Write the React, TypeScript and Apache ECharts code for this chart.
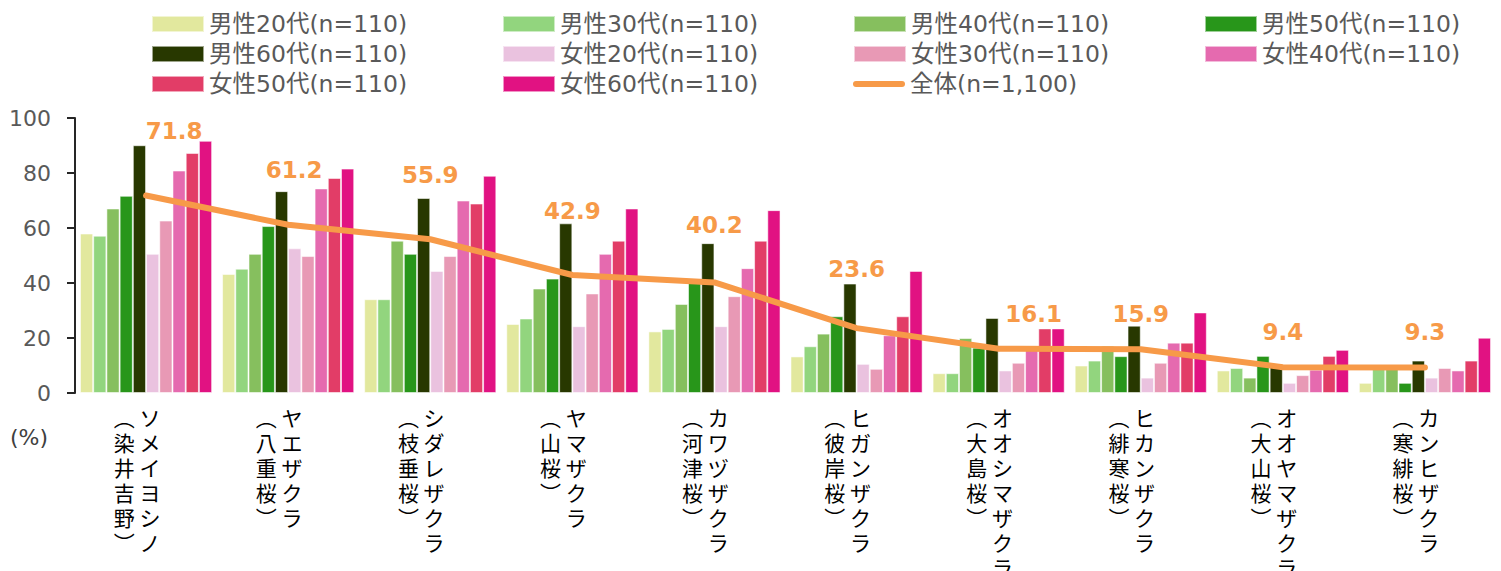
import React, { useEffect, useRef } from "react";
import * as echarts from "echarts";

// ---- data ----
const catMain = ["ソメイヨシノ", "ヤエザクラ", "シダレザクラ", "ヤマザクラ", "カワヅザクラ", "ヒガンザクラ", "オオシマザクラ", "ヒカンザクラ", "オオヤマザクラ", "カンヒザクラ"];
const catSub = ["(染井吉野)", "(八重桜)", "(枝垂桜)", "(山桜)", "(河津桜)", "(彼岸桜)", "(大島桜)", "(緋寒桜)", "(大山桜)", "(寒緋桜)"];

const seriesNames = [
  "男性20代(n=110)", "男性30代(n=110)", "男性40代(n=110)", "男性50代(n=110)", "男性60代(n=110)",
  "女性20代(n=110)", "女性30代(n=110)", "女性40代(n=110)", "女性50代(n=110)", "女性60代(n=110)",
];
const totalName = "全体(n=1,100)";

const m20 = [58.0, 43.3, 34.1, 25.1, 22.4, 13.3, 7.2, 10.0, 8.2, 3.7];
const m30 = [57.2, 45.2, 34.1, 27.1, 23.3, 17.0, 7.2, 11.8, 9.1, 9.5];
const m40 = [67.1, 50.6, 55.4, 38.0, 32.4, 21.6, 20.0, 17.2, 5.6, 9.2];
const m50 = [71.7, 60.7, 50.6, 41.6, 40.0, 27.9, 16.5, 13.4, 13.5, 3.7];
const m60 = [90.1, 73.4, 70.9, 61.7, 54.5, 39.8, 27.3, 24.5, 10.0, 11.8];
const f20 = [50.6, 52.6, 44.4, 24.3, 24.3, 10.6, 8.2, 5.6, 3.7, 5.6];
const f30 = [62.7, 49.8, 49.8, 36.2, 35.2, 8.8, 11.0, 11.0, 6.5, 9.1];
const f40 = [80.9, 74.4, 70.0, 50.6, 45.4, 21.0, 16.0, 18.3, 8.5, 8.2];
const f50 = [87.3, 78.2, 68.9, 55.4, 55.4, 27.9, 23.5, 18.3, 13.5, 11.8];
const f60 = [91.7, 81.6, 79.0, 67.1, 66.5, 44.4, 23.5, 29.3, 15.7, 20.1];
const total = [71.8, 61.2, 55.9, 42.9, 40.2, 23.6, 16.1, 15.9, 9.4, 9.3];

const yTicks = { min: 0, max: 100, interval: 20 };

// ---- styles ----
const barColors = ["#E2E89E", "#92D57E", "#86BF5E", "#28961A", "#283800", "#EAC2DF", "#E899B5", "#E56AAF", "#E23D67", "#E11282"];
const lineColor = "#F79A48";
// label placement tweaks (pixels) for the total-series value labels
const labelDx = [28, 6, 0, 0, 0, 0, 35, 0, 0, 0];
const labelDy = [-47, -37, -47, -47, -40, -42, -17, -18, -18, -18];

const barData = [m20, m30, m40, m50, m60, f20, f30, f40, f50, f60];

function verticalLabel(i: number): string {
  const a = Array.from(catMain[i]);
  const b = Array.from(catSub[i].replace("(", "︵").replace(")", "︶"));
  const n = Math.max(a.length, b.length);
  const rows: string[] = [];
  for (let k = 0; k < n; k++) {
    rows.push((b[k] ?? "　") + " " + (a[k] ?? "　"));
  }
  return rows.join("\n");
}

export default function App() {
  const ref = useRef<HTMLDivElement>(null);
  useEffect(() => {
    document.body.style.margin = "0";
    if (!ref.current) return;
    const chart = echarts.init(ref.current, undefined, { renderer: "svg" });
    const latin = "'DejaVu Sans', 'Noto Sans CJK JP', sans-serif";
    const option: any = {
      animation: false,
      backgroundColor: "#ffffff",
      legend: {
        left: 146,
        top: 6,
        width: 1400,
        itemWidth: 52,
        itemHeight: 16,
        itemGap: 4,
        textStyle: { fontSize: 23.5, color: "#595959", fontFamily: latin, width: 289, lineHeight: 26 },
        data: [
          ...seriesNames.map((n) => ({ name: n, icon: "rect" })),
          {
            name: totalName,
            icon: "path://M3,0 H49 A3,3 0 0 1 49,6 H3 A3,3 0 0 1 3,0 Z",
          },
        ],
      },
      grid: { left: 75, right: 5, top: 118, bottom: 178, containLabel: false, outerBoundsMode: "none" },
      xAxis: {
        type: "category",
        data: catMain.map((_, i) => i),
        axisLine: { show: false },
        axisTick: { show: false },
        axisLabel: {
          interval: 0,
          margin: 11,
          verticalAlign: "top",
          fontSize: 21,
          lineHeight: 25,
          padding: [0, 18, 0, 0],
          color: "#000000",
          fontFamily: "'Noto Sans CJK JP', sans-serif",
          formatter: (_v: any, i: number) => verticalLabel(i),
        },
      },
      yAxis: {
        type: "value",
        min: yTicks.min,
        max: yTicks.max,
        interval: yTicks.interval,
        splitLine: { show: false },
        axisLine: { show: true, lineStyle: { color: "#262626", width: 2 } },
        axisTick: { show: true, length: 8, lineStyle: { color: "#262626", width: 2 } },
        axisLabel: { fontSize: 22, color: "#595959", margin: 24, fontFamily: latin },
      },
      graphic: [
        {
          type: "text",
          left: 10,
          top: 426,
          style: { text: "(%)", fontSize: 22, fill: "#404040", fontFamily: latin },
        },
      ],
      series: [
        ...barData.map((d, k) => ({
          name: seriesNames[k],
          type: "bar",
          data: d,
          barGap: "0%",
          barCategoryGap: "7%",
          itemStyle: { color: barColors[k], borderColor: "rgba(255,255,255,0.55)", borderWidth: 1 },
        })),
        {
          name: totalName,
          type: "line",
          data: total.map((v, i) => ({
            value: v,
            label: { offset: [labelDx[i], labelDy[i]] },
          })),
          symbol: "circle",
          symbolSize: 2,
          showSymbol: true,
          lineStyle: { color: lineColor, width: 6, cap: "round" },
          itemStyle: { color: lineColor },
          z: 5,
          label: {
            show: true,
            position: "top",
            distance: 5,
            color: lineColor,
            fontSize: 23,
            fontWeight: "bold",
            fontFamily: latin,
            formatter: (p: any) => Number(p.value).toFixed(1),
          },
        },
      ],
    };
    chart.setOption(option);
    return () => chart.dispose();
  }, []);
  return <div ref={ref} style={{ width: 1501, height: 571 }} />;
}
